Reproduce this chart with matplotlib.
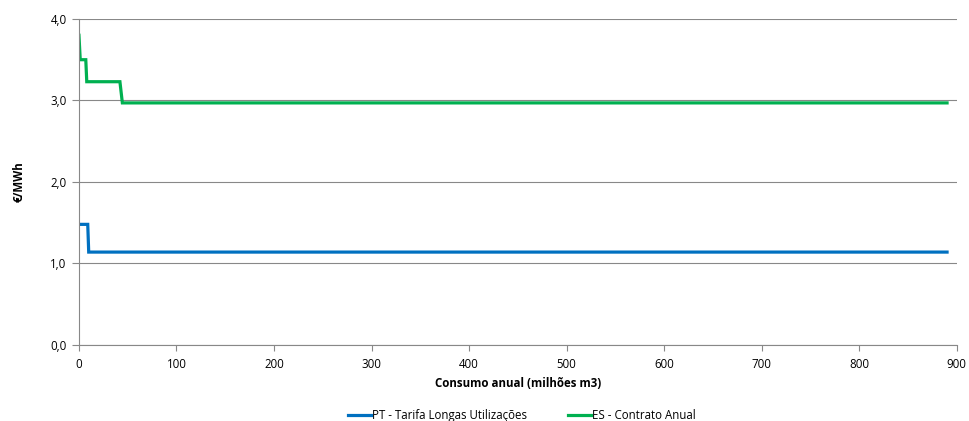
import numpy as np
import matplotlib
matplotlib.use("Agg")
from matplotlib import pyplot as plt

plt.rcParams['font.family'] = ['Open Sans', 'DejaVu Sans']

# data
pt_x = [0, 9, 10, 890]
pt_y = [1.48, 1.48, 1.14, 1.14]
es_x = [0, 1.3, 7, 8, 42, 44.5, 890]
es_y = [3.80, 3.50, 3.50, 3.23, 3.23, 2.97, 2.97]
pt_label = "PT - Tarifa Longas Utilizações"
es_label = "ES - Contrato Anual"

fig = plt.figure(figsize=(9.7, 4.21), dpi=100)
ax = fig.add_axes([0.0814, 0.1805, 0.905, 0.7745])

ax.plot(pt_x, pt_y, color="#0070C0", lw=2.3, label=pt_label, solid_joinstyle="miter")
ax.plot(es_x, es_y, color="#00B050", lw=2.3, label=es_label, solid_joinstyle="miter")

ax.set_xlim(0, 900)
ax.set_ylim(0, 4)
ax.set_xticks(np.arange(0, 901, 100))
ax.set_yticks(np.arange(0, 4.1, 1))
ax.set_yticklabels([f"{v:.1f}".replace(".", ",") for v in np.arange(0, 4.1, 1)])
ax.grid(axis="y", color="#888888", lw=0.8)
ax.set_axisbelow(True)
for s in ["top", "right"]:
    ax.spines[s].set_visible(False)
for s in ["left", "bottom"]:
    ax.spines[s].set_color("#888888")
ax.tick_params(axis="both", colors="#888888", labelcolor="black", labelsize=8.3, length=4, direction="out")
ax.tick_params(axis="y", length=5, pad=4)
ax.tick_params(axis="x", pad=5)

ax.set_xlabel("Consumo anual (milhões m3)", fontsize=8.3, fontweight="bold", labelpad=5)
ax.set_ylabel("€/MWh", fontsize=8.3, fontweight="bold", labelpad=18)

fig.legend(loc="center", bbox_to_anchor=(0.538, 0.013), ncol=2, frameon=False,
           fontsize=8.3, handlelength=2.0, handletextpad=0.1, columnspacing=3.6)

plt.savefig("out.png", dpi=100)
